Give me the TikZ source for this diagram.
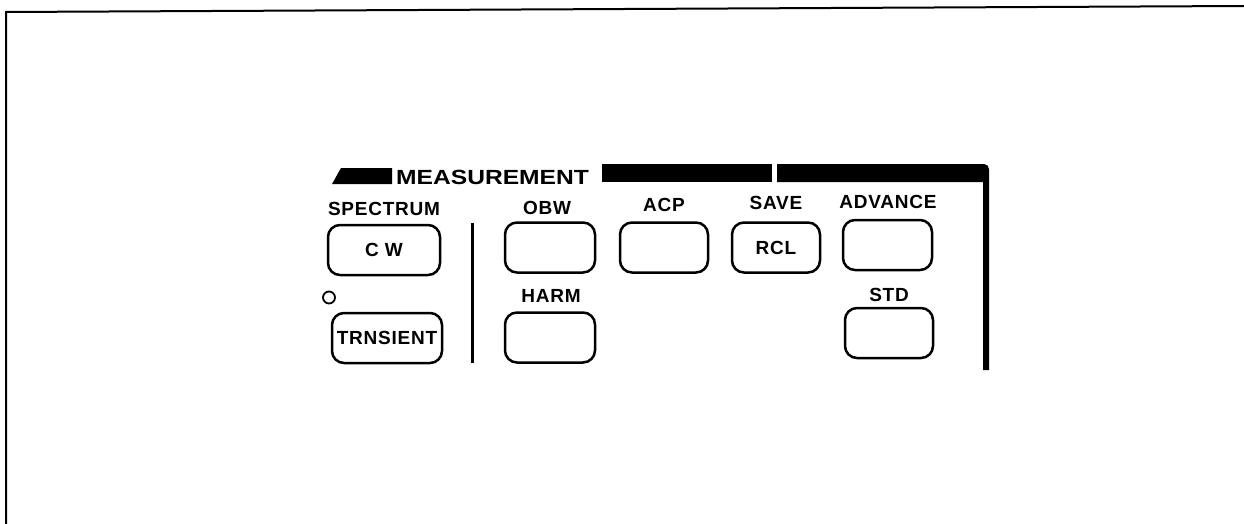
\documentclass[tikz,border=0pt]{standalone}
\usepackage{fontspec}
\usepackage{graphicx}
\setmainfont{Liberation Sans}
\newfontfamily\lblfont[LetterSpace=4]{Liberation Sans}
\begin{document}
\begin{tikzpicture}[x=1pt,y=-1pt,
  btn/.style={draw, line width=2.5pt, rounded corners=12pt, inner sep=0pt,
    minimum width=89pt, minimum height=50pt,
    font=\lblfont\bfseries\fontsize{19}{20}\selectfont},
  lbl/.style={inner sep=0pt, anchor=base,
    font=\lblfont\bfseries\fontsize{19}{20}\selectfont},
  bar/.style={fill=black}]
\useasboundingbox (0,0) rectangle (1244,524);
% frame of the page
\draw[line width=2pt] (1244,6) -- (6,12) -- (6,524);
% header
\fill (332,184) -- (341,168) -- (392,168) -- (392,184) -- cycle;
\node[inner sep=0pt, anchor=base west, font=\bfseries\fontsize{20.5}{22}\selectfont] (title) at (396,184) {\scalebox{1.2}[1]{MEASUREMENT}};
\fill[bar] (602,164) rectangle (772,182);
\fill[bar] (777,164) -- (984,164) arc[start angle=90, end angle=0, radius=5pt] -- (989,370) -- (983,370) -- (983,182) -- (777,182) -- cycle;
% divider
\draw[line width=3pt] (472,223) -- (472,363);
% labels
\node[lbl] (lspec) at (384,215) {SPECTRUM};
\node[lbl] (lobw) at (547,214) {OBW};
\node[lbl] (lacp) at (664,211) {ACP};
\node[lbl] (lsave) at (776,209) {SAVE};
\node[lbl] (ladv) at (888,208) {ADVANCE};
\node[lbl] (lharm) at (551,302) {HARM};
\node[lbl] (lstd) at (889,301) {STD};
% buttons
\node[btn, minimum width=112pt] (cw) at (384,250) {C W};
\node[btn, minimum width=110pt] (trn) at (387,338) {TRNSIENT};
\node[btn, minimum width=90pt] (obw) at (550,247.5) {};
\node[btn, minimum width=88pt] (acp) at (664,247.5) {};
\node[btn, minimum width=88pt] (rcl) at (776,247.5) {RCL};
\node[btn] (adv) at (887.5,245) {};
\node[btn, minimum width=90pt] (harm) at (550,337.5) {};
\node[btn, minimum width=88pt] (std) at (889,333) {};
% indicator lamp
\node[draw, circle, line width=1.8pt, minimum size=12pt, inner sep=0pt] (lamp) at (329,297.5) {};
\end{tikzpicture}
\end{document}
